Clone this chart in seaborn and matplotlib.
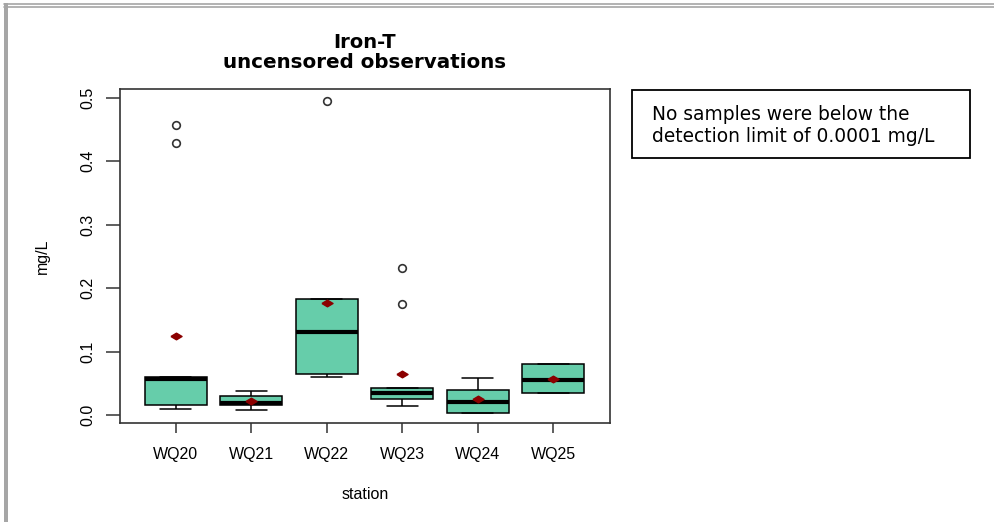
import numpy as np
import pandas as pd
import seaborn as sns
import matplotlib.pyplot as plt
from matplotlib.patches import Rectangle
from matplotlib.lines import Line2D

# Total iron (mg/L) by monitoring station
stations = ["WQ20", "WQ21", "WQ22", "WQ23", "WQ24", "WQ25"]
wq20 = [0.0095, 0.012, 0.016, 0.017, 0.057, 0.058, 0.060, 0.429, 0.457]
wq21 = [0.008, 0.016, 0.019, 0.030, 0.038]
wq22 = [0.060, 0.060, 0.079, 0.183, 0.183, 0.495]
wq23 = [0.014, 0.014, 0.025, 0.025, 0.032, 0.038, 0.043, 0.043, 0.175, 0.232]
wq24 = [0.003, 0.003, 0.021, 0.039, 0.058]
wq25 = [0.035, 0.035, 0.055, 0.080, 0.080]
y_ticks = [0.0, 0.1, 0.2, 0.3, 0.4, 0.5]

series = [wq20, wq21, wq22, wq23, wq24, wq25]
df = pd.DataFrame({
    "station": np.repeat(stations, [len(s) for s in series]),
    "value": np.concatenate(series),
})

sns.set_theme(style="white")
plt.rcParams["font.family"] = ["Liberation Sans", "DejaVu Sans"]
plt.rcParams.update({
    "text.color": "black",
    "axes.labelcolor": "black",
    "xtick.color": "black",
    "ytick.color": "black",
})

W, H = 994, 522
fig = plt.figure(figsize=(W / 100, H / 100), dpi=100)


def px(x0, y0, x1, y1):
    """Pixel box (top-left origin) -> figure fractions [left, bottom, width, height]."""
    return [x0 / W, 1 - y1 / H, (x1 - x0) / W, (y1 - y0) / H]


ax = fig.add_axes(px(120, 89, 610, 423))

sns.boxplot(
    data=df, x="station", y="value", order=stations, ax=ax,
    color="#66CDAA", saturation=1, width=0.82, whis=1.5,
    linecolor="black", linewidth=1.1,
    showmeans=True,
    meanprops=dict(marker=[(-1, 0), (0, 0.6), (1, 0), (0, -0.6), (-1, 0)],
                   markerfacecolor="#8B0000", markeredgecolor="#8B0000",
                   markersize=8),
    medianprops=dict(color="black", linewidth=3),
    flierprops=dict(marker="o", markerfacecolor="none", markeredgecolor="#333333",
                    markersize=5.5, markeredgewidth=1.2),
)

ax.set_xlim(-0.74, 5.75)
ax.set_ylim(-0.0126, 0.514)
ax.set_yticks(y_ticks)
ax.set_yticklabels([f"{t:.1f}" for t in y_ticks], rotation=90, va="center")

for sp in ax.spines.values():
    sp.set_color("#333333")
    sp.set_linewidth(1.2)

ax.tick_params(axis="y", direction="out", length=10, width=1.1, color="#333333",
               pad=8, labelsize=11.5, left=True)
ax.tick_params(axis="x", direction="out", length=7, width=1.1, color="#333333",
               pad=10, labelsize=11.5, bottom=True)

ax.set_xlabel("station", fontsize=11.5, labelpad=18)
ax.set_ylabel("mg/L", fontsize=11.5, labelpad=22)

# Two-line bold title
fig.text(365 / W, 1 - 42 / H, "Iron-T", ha="center", va="center",
         fontsize=14, fontweight="bold", family="DejaVu Sans")
fig.text(365 / W, 1 - 62 / H, "uncensored observations", ha="center", va="center",
         fontsize=14.3, fontweight="bold", family="DejaVu Sans")

# Detection-limit note
fig.add_artist(Rectangle((632 / W, 1 - 158 / H), (970 - 632) / W, (158 - 90) / H,
                         transform=fig.transFigure, facecolor="white",
                         edgecolor="black", linewidth=1.3))
fig.text(652 / W, 1 - 114 / H, "No samples were below the",
         ha="left", va="center", fontsize=13.4, family="DejaVu Sans")
fig.text(652 / W, 1 - 137 / H, "detection limit of 0.0001 mg/L",
         ha="left", va="center", fontsize=13.4, family="DejaVu Sans")

# Page frame
fig.add_artist(Rectangle((4 / W, 0), 3.5 / W, 1 - 3 / H, transform=fig.transFigure,
                         facecolor="#a6a6a6", edgecolor="none"))
for yy in (3.8, 6.8):
    fig.add_artist(Line2D([4 / W, 1], [1 - yy / H, 1 - yy / H], transform=fig.transFigure,
                          color="#a6a6a6", linewidth=1.2))

fig.savefig("out.png", dpi=100, facecolor="white")
